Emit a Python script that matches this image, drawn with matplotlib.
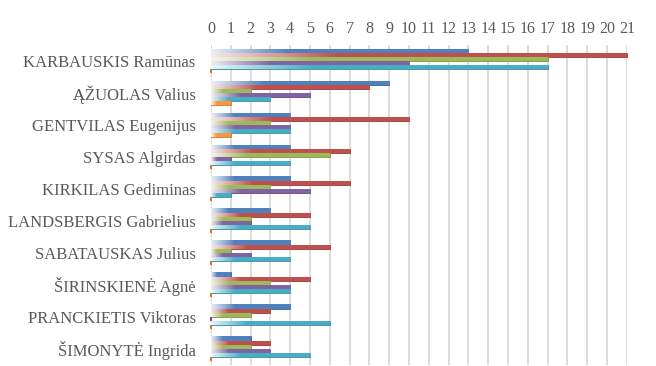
import numpy as np
import matplotlib
matplotlib.use("Agg")
import matplotlib.pyplot as plt
from matplotlib.colors import to_rgb

categories = ["KARBAUSKIS Ramūnas", "ĄŽUOLAS Valius", "GENTVILAS Eugenijus",
              "SYSAS Algirdas", "KIRKILAS Gediminas", "LANDSBERGIS Gabrielius",
              "SABATAUSKAS Julius", "ŠIRINSKIENĖ Agnė", "PRANCKIETIS Viktoras",
              "ŠIMONYTĖ Ingrida"]
s1 = [13, 9, 4, 4, 4, 3, 4, 1, 4, 2]
s2 = [21, 8, 10, 7, 7, 5, 6, 5, 3, 3]
s3 = [17, 2, 3, 6, 3, 2, 1, 3, 2, 2]
s4 = [10, 5, 4, 1, 5, 2, 2, 4, 0, 3]
s5 = [17, 3, 4, 4, 1, 5, 4, 4, 6, 5]
s6 = [0, 1, 1, 0, 0, 0, 0, 0, 0, 0]
series = [s1, s2, s3, s4, s5, s6]
colors = ["#4F81BD", "#C0504D", "#9BBB59", "#8064A2", "#4BACC6", "#F79646"]
edges = ["#3A6595", "#9E3B38", "#7A9A3F", "#644C84", "#3590A8", "#D5762A"]
xticks = list(range(0, 22))

plt.rcParams['font.family'] = ['Liberation Serif', 'DejaVu Serif']

fig = plt.figure(figsize=(6.56, 3.66), dpi=100)
ax = fig.add_axes([0.3216, 0.003, 0.634, 0.874])

n = len(series)
h = 0.13
y = np.arange(len(categories))
for j, (vals, c, ec) in enumerate(zip(series, colors, edges)):
    off = -n * h / 2 + h * (j + 0.5)
    bars = ax.barh(y + off, vals, height=h, color=c, edgecolor=ec, linewidth=0.6,
                   zorder=3, clip_on=False)
    rgb = np.array(to_rgb(c))
    for b, v in zip(bars, vals):
        if v <= 0:
            b.set_linewidth(1.4)
            b.set_edgecolor(ec)
            continue
        N = 200
        t = np.linspace(0, 1, N)
        f = np.clip(t / 0.3, 0, 1)
        f = 0.12 + 0.88 * f
        img = np.ones((2, N, 3))
        col = (1 - f)[:, None] * np.ones(3) + f[:, None] * rgb
        img[0] = col
        img[1] = col
        x0, y0 = b.get_x(), b.get_y()
        im = ax.imshow(img, extent=(x0, x0 + b.get_width(), y0 + b.get_height(), y0),
                       aspect='auto', interpolation='bilinear', zorder=3.5)
        im.set_clip_path(b)

ax.set_xlim(0, 21)
ax.set_ylim(len(categories) - 0.5, -0.5)
ax.set_xticks(xticks)
ax.xaxis.tick_top()
ax.set_yticks(y)
ax.set_yticklabels(categories)
ax.tick_params(axis='x', length=0, labelsize=11.5, labelcolor='#595959', pad=6)
ax.tick_params(axis='y', length=0, labelsize=12, labelcolor='#595959', pad=11)
ax.grid(axis='x', color='#D9D9D9', linewidth=1.3, zorder=0)
ax.set_axisbelow(True)
for s in ax.spines.values():
    s.set_visible(False)

fig.savefig("out.png", dpi=100)
